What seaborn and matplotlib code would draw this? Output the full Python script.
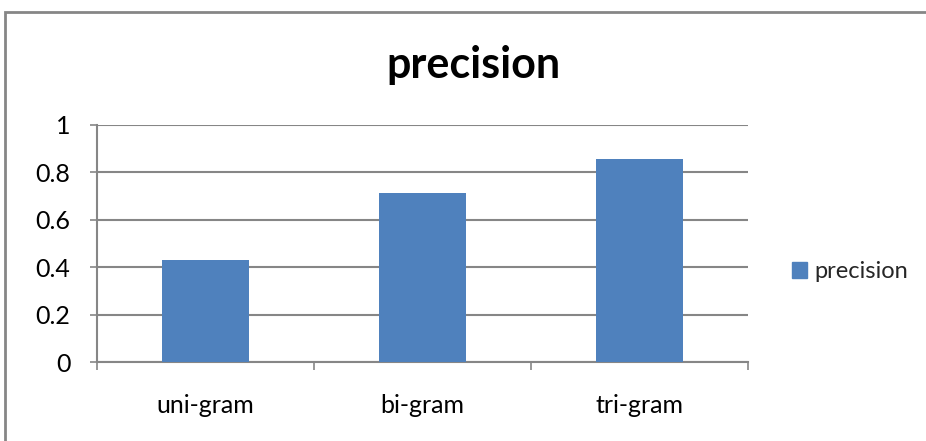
import matplotlib
matplotlib.use('Agg')
import matplotlib.pyplot as plt
import matplotlib.patches as mpatches
import seaborn as sns
import pandas as pd

# Data
categories = ['uni-gram', 'bi-gram', 'tri-gram']
precision = [0.4286, 0.7143, 0.8571]

df = pd.DataFrame({'ngram': categories, 'precision': precision})

sns.set_style('white')
plt.rcParams['font.family'] = ['Lato', 'DejaVu Sans']

fig = plt.figure(figsize=(9.26, 4.41), dpi=100)
ax = fig.add_axes([97 / 926, 1 - 362 / 441, 651 / 926, 237 / 441])

sns.barplot(data=df, x='ngram', y='precision', color='#4F81BD',
            saturation=1, width=0.4, linewidth=0, ax=ax, zorder=3)

grid_col = '#868686'
ax.set_ylim(0, 1)
ax.set_xlim(-0.5, 2.5)
ax.set_yticks([0, 0.2, 0.4, 0.6, 0.8, 1])
ax.set_yticklabels(['0', '0.2', '0.4', '0.6', '0.8', '1'], fontsize=18,
                   color='black')
ax.yaxis.grid(True, color=grid_col, linewidth=1.5, zorder=0)
ax.set_axisbelow(True)
ax.tick_params(axis='y', length=5, width=1.2, color=grid_col, pad=14,
               direction='out', left=True)
ax.tick_params(axis='x', length=0, pad=23, labelsize=18, labelcolor='black')
ax.set_xticks([-0.5, 0.5, 1.5, 2.5], minor=True)
ax.tick_params(axis='x', which='minor', length=6, width=1.2,
               color=grid_col, direction='out', bottom=True)
for s in ['top', 'right']:
    ax.spines[s].set_visible(False)
for s in ['left', 'bottom']:
    ax.spines[s].set_color(grid_col)
    ax.spines[s].set_linewidth(1.5)
ax.set_xlabel('')
ax.set_ylabel('')

fig.text(473 / 926, 1 - 65 / 441, 'precision', fontsize=31,
         fontweight='bold', ha='center', va='center', color='black')

# Legend
handle = mpatches.Patch(color='#4F81BD', label='precision')
fig.legend(handles=[handle], loc='center left',
           bbox_to_anchor=(792 / 926, 1 - 272 / 441), frameon=False,
           fontsize=17, handlelength=0.65, handleheight=0.65,
           handletextpad=0.3, borderpad=0, borderaxespad=0)

# Outer chart border
fig.patches.append(mpatches.Rectangle(
    (5 / 926, -0.1), 1.1, 1 - 12 / 441 + 0.1, transform=fig.transFigure,
    fill=False, edgecolor=grid_col, linewidth=2))

fig.savefig('out.png', dpi=100)
